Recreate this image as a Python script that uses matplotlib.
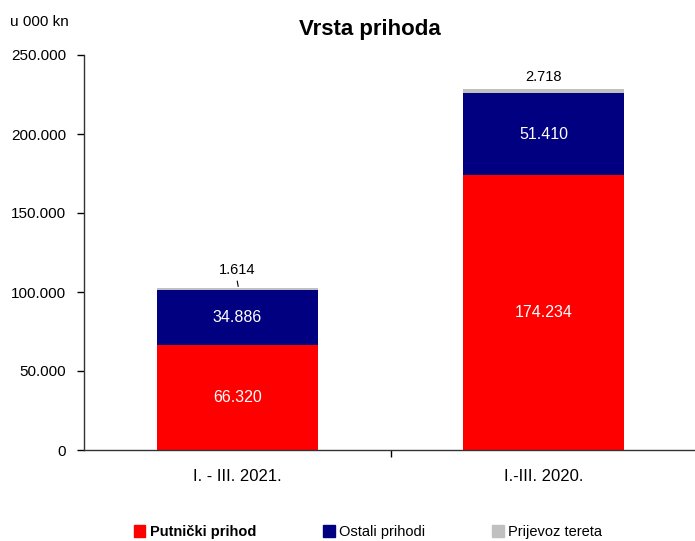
import matplotlib
matplotlib.use("Agg")
import matplotlib.pyplot as plt
from matplotlib import font_manager
from matplotlib.patches import Patch

names = {f.name for f in font_manager.fontManager.ttflist}
fam = "Liberation Sans Narrow" if "Liberation Sans Narrow" in names else "Liberation Sans"
plt.rcParams['font.family'] = [fam, 'DejaVu Sans']

kategorije = ["I. - III. 2021.", "I.-III. 2020."]
putnicki = [66320, 174234]
ostali = [34886, 51410]
prijevoz = [1614, 2718]
serije = ["Putnički prihod", "Ostali prihodi", "Prijevoz tereta"]
boje = ["#FF0000", "#000080", "#C0C0C0"]

def fmt(v):
    return f"{v:,.0f}".replace(",", ".")

fig = plt.figure(figsize=(6.95, 5.41), dpi=100)
ax = fig.add_axes([84/695, 91/541, 613/695, 395/541])

x = range(len(kategorije))
w = 0.525
ax.bar(x, putnicki, w, color=boje[0])
ax.bar(x, ostali, w, bottom=putnicki, color=boje[1])
dno3 = [p + o for p, o in zip(putnicki, ostali)]
ax.bar(x, prijevoz, w, bottom=dno3, color=boje[2])

for i in x:
    ax.text(i, putnicki[i] / 2, fmt(putnicki[i]), color="white", ha="center", va="center", fontsize=11.5)
    ax.text(i, putnicki[i] + ostali[i] / 2, fmt(ostali[i]), color="white", ha="center", va="center", fontsize=11.5)
    vrh = dno3[i] + prijevoz[i]
    if i == 0:
        ax.text(i, vrh + 11000, fmt(prijevoz[i]), color="black", ha="center", va="center", fontsize=10.5)
        ax.plot([i, i + 0.003], [vrh + 4000, vrh + 800], color="black", lw=0.8)
    else:
        ax.text(i, vrh + 7500, fmt(prijevoz[i]), color="black", ha="center", va="center", fontsize=10.5)

ax.set_xlim(-0.5, 1.5)
ax.set_ylim(0, 250000)
ax.set_yticks(range(0, 250001, 50000))
ax.set_yticklabels([fmt(v) for v in range(0, 250001, 50000)], fontsize=11)
ax.set_xticks([0.5])
ax.set_xticklabels([""])
ax.tick_params(axis="x", direction="out", length=5, width=1)
for i in x:
    ax.text(i, -12000, kategorije[i], ha="center", va="top", fontsize=12)
ax.tick_params(axis="y", direction="out", length=5, width=1, pad=8)
ax.spines["top"].set_visible(False)
ax.spines["right"].set_visible(False)
for s in ("left", "bottom"):
    ax.spines[s].set_linewidth(1.0)
    ax.spines[s].set_color("#333333")

fig.text(370/695, 1 - 29/541, "Vrsta prihoda", ha="center", va="center", fontsize=16, fontweight="bold")
fig.text(10/695, 1 - 22/541, "u 000 kn", ha="left", va="center", fontsize=11)

handles = [Patch(color=c) for c in boje]
leg = fig.legend(handles, serije, loc="center", bbox_to_anchor=(368/695, 1 - 532/541), ncol=3,
                 frameon=False, fontsize=10.5, handlelength=0.8, handleheight=0.8,
                 handletextpad=0.3, columnspacing=4.6)
leg.get_texts()[0].set_fontweight("bold")

fig.savefig("out.png", dpi=100)
